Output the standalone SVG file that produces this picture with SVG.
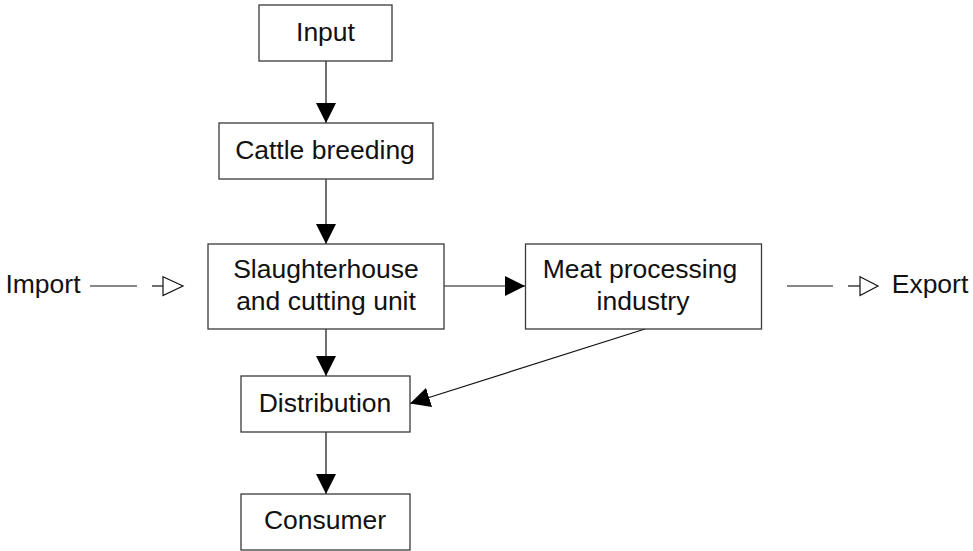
<svg xmlns="http://www.w3.org/2000/svg" width="973" height="551" viewBox="0 0 973 551">
<defs>
<style>
.box{fill:#fff;stroke:#3a3a3a;stroke-width:1.3}
.t{font-family:"Liberation Sans",Arial,sans-serif;font-size:26.5px;fill:#111;text-anchor:middle}
.ln{stroke:#111;stroke-width:1.2;fill:none}
.open{fill:#fff;stroke:#111;stroke-width:1.2}
</style>
<marker id="ah" markerUnits="userSpaceOnUse" markerWidth="20" markerHeight="20" refX="20" refY="10" orient="auto" viewBox="0 0 20 20">
<path d="M0,0 L20,10 L0,20 z" fill="#000"/>
</marker>
</defs>
<rect width="973" height="551" fill="#fff"/>
<g id="connectors">
<line class="ln" x1="326" y1="61" x2="326" y2="123" marker-end="url(#ah)"/>
<line class="ln" x1="326" y1="179" x2="326" y2="244" marker-end="url(#ah)"/>
<line class="ln" x1="326" y1="329" x2="326" y2="376" marker-end="url(#ah)"/>
<line class="ln" x1="326" y1="432" x2="326" y2="494" marker-end="url(#ah)"/>
<line class="ln" x1="444" y1="286" x2="525" y2="286" marker-end="url(#ah)"/>
<line class="ln" x1="645" y1="329" x2="410" y2="403.5" marker-end="url(#ah)"/>
<line class="ln" x1="90" y1="286" x2="137" y2="286"/>
<line class="ln" x1="152" y1="286" x2="163" y2="286"/>
<polygon class="open" points="163,276.7 183,286 163,295.5"/>
<line class="ln" x1="787" y1="286" x2="833" y2="286"/>
<line class="ln" x1="848" y1="286" x2="860" y2="286"/>
<polygon class="open" points="860,276.7 878,286 860,295.5"/>
</g>
<g id="input"><rect class="box" x="259" y="5" width="133" height="56"/><text class="t" x="325.5" y="40.5">Input</text></g>
<g id="cattle"><rect class="box" x="219" y="123" width="214" height="56"/><text class="t" x="325" y="158.5">Cattle breeding</text></g>
<g id="slaughter"><rect class="box" x="208" y="244" width="236" height="85"/><text class="t" x="326" y="277.5">Slaughterhouse</text><text class="t" x="326" y="309.5">and cutting unit</text></g>
<g id="meat"><rect class="box" x="525.5" y="244" width="236" height="85"/><text class="t" x="640" y="277.5">Meat processing</text><text class="t" x="643" y="309.5">industry</text></g>
<g id="distribution"><rect class="box" x="241" y="376" width="169" height="56"/><text class="t" x="325" y="412">Distribution</text></g>
<g id="consumer"><rect class="box" x="241" y="494" width="169" height="56"/><text class="t" x="325" y="528.5">Consumer</text></g>
<g id="import"><text class="t" x="43" y="293">Import</text></g>
<g id="export"><text class="t" x="930" y="293">Export</text></g>
</svg>
